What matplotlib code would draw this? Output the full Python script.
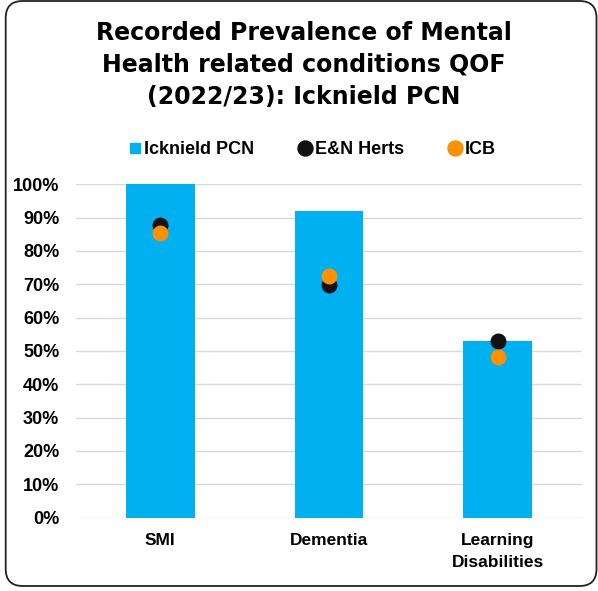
import matplotlib.pyplot as plt
from matplotlib.lines import Line2D
from matplotlib.patches import FancyBboxPatch

# --- data ---
categories = ["SMI", "Dementia", "Learning\nDisabilities"]
pcn_values = [1.00, 0.919, 0.531]      # Icknield PCN (bars)
enh_values = [0.878, 0.698, 0.530]     # E&N Herts (black dots)
icb_values = [0.855, 0.725, 0.481]     # ICB (orange dots)
y_ticks = [0, 0.1, 0.2, 0.3, 0.4, 0.5, 0.6, 0.7, 0.8, 0.9, 1.0]

blue = "#00B0F0"
black = "#111111"
orange = "#FF9000"

plt.rcParams['font.family'] = ['Liberation Sans', 'DejaVu Sans']

fig = plt.figure(figsize=(5.98, 5.91), dpi=100)
ax = fig.add_axes([0.1271, 0.1242, 0.9732 - 0.1271, 0.6882 - 0.1242])

x = list(range(len(categories)))
ax.bar(x, pcn_values, width=0.406, color=blue, zorder=2)
ax.scatter(x, enh_values, s=132, color=black, zorder=3, linewidths=0)
ax.scatter(x, icb_values, s=132, color=orange, zorder=4, linewidths=0)

ax.set_xlim(-0.5, 2.5)
ax.set_ylim(0, 1.0)
ax.set_yticks(y_ticks)
ax.set_yticklabels([f"{int(round(t * 100))}%" for t in y_ticks], fontsize=13, fontweight='bold')
ax.set_xticks(x)
ax.set_xticklabels(categories, fontsize=12.5, fontweight='bold', linespacing=1.6)
ax.tick_params(axis='y', length=0, pad=12)
ax.tick_params(axis='x', length=0, pad=11)
ax.grid(axis='y', color='#D9D9D9', linewidth=1.0, zorder=0)
ax.set_axisbelow(True)
for sp in ax.spines.values():
    sp.set_visible(False)

# title
fig.text(0.508, 1 - 21 / 591,
         "Recorded Prevalence of Mental\nHealth related conditions QOF\n(2022/23): Icknield PCN",
         ha='center', va='top', fontsize=17, fontweight='bold',
         family=['DejaVu Sans'], linespacing=1.42)

# legend
handles = [
    Line2D([], [], linestyle='none', marker='s', markersize=7.7, color=blue),
    Line2D([], [], linestyle='none', marker='o', markersize=10.8, color=black),
    Line2D([], [], linestyle='none', marker='o', markersize=10.8, color=orange),
]
fig.legend(handles, ["Icknield PCN", "E&N Herts", "ICB"], loc='center',
           bbox_to_anchor=(311.5 / 598, 1 - 150 / 591), ncol=3, frameon=False,
           prop={'size': 13, 'weight': 'bold'}, handlelength=0.8,
           handletextpad=0.15, columnspacing=2.4, borderpad=0)

# rounded outer frame
frame = FancyBboxPatch((0.057, 0.05), 5.965 - 0.057, 5.90 - 0.05,
                       boxstyle="round,pad=0,rounding_size=0.17",
                       transform=fig.dpi_scale_trans, fill=False,
                       edgecolor='#222222', linewidth=1.3)
fig.patches.append(frame)

fig.savefig("out.png", dpi=100)
